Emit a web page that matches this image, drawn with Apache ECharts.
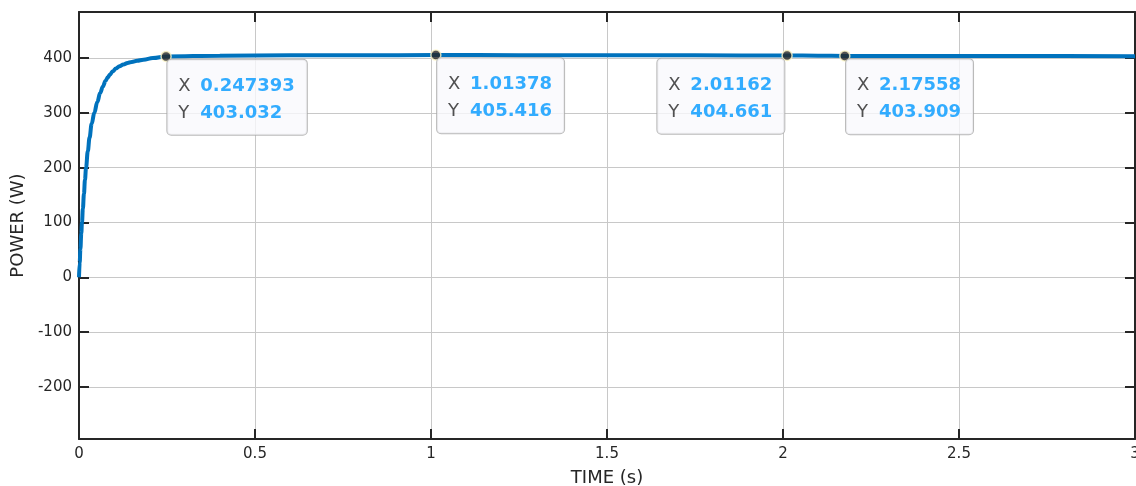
<!DOCTYPE html>
<html>
<head>
<meta charset="utf-8">
<script src="https://cdn.jsdelivr.net/npm/echarts@6/dist/echarts.min.js"></script>
<style>html,body{margin:0;padding:0;background:#fff;}#c{width:1136px;height:486px;}</style>
</head>
<body>
<div id="c"></div>
<script>
// Time (s) and power (W)
const timeS = [0, 0.002, 0.004, 0.0065, 0.0085, 0.011, 0.014, 0.017, 0.02, 0.025, 0.03, 0.036, 0.0435, 0.052, 0.06, 0.068, 0.075, 0.082, 0.088, 0.096, 0.105, 0.115, 0.126, 0.138, 0.15, 0.165, 0.183, 0.21, 0.247393, 0.4, 0.6, 0.8, 1.01378, 1.25, 1.5, 1.75, 2.01162, 2.1, 2.17558, 2.4, 2.7, 3.0];
const powerW = [0, 27, 52, 80, 100, 125, 152, 178, 200, 230, 255, 280, 300, 320, 336, 348, 358, 365, 370, 376, 381, 385, 388, 391, 393, 395, 397, 400, 403.032, 404.2, 404.9, 405.2, 405.416, 405.3, 405.1, 404.9, 404.661, 404.3, 403.909, 403.7, 403.6, 403.5];

// Data tips
const tipX = [0.247393, 1.01378, 2.01162, 2.17558];
const tipY = [403.032, 405.416, 404.661, 403.909];
const tipSide = ['right', 'right', 'left', 'right'];

const xTicks = [0, 0.5, 1, 1.5, 2, 2.5, 3];
const yTickStep = 100;

const font = 'DejaVu Sans';
const ink = '#262626';

const lineData = timeS.map((t, i) => [t, powerW[i]]);
const tipData = tipX.map((x, i) => ({
  value: [x, tipY[i]],
  label: tipSide[i] === 'left'
    ? { position: [3, 9], align: 'right' }
    : { position: [7, 9], align: 'left' }
}));

const chart = echarts.init(document.getElementById('c'), null, { renderer: 'canvas' });
const axisCommon = {
  axisLine: { show: true, onZero: false, lineStyle: { color: ink, width: 2 } },
  axisTick: { show: true, inside: true, length: 10, lineStyle: { color: ink, width: 2 } }
};
chart.setOption({
  animation: false,
  backgroundColor: '#ffffff',
  grid: { left: 79, right: 1, top: 12, bottom: 47, containLabel: false, outerBoundsMode: 'none' },
  xAxis: [
    Object.assign({
      type: 'value', min: xTicks[0], max: xTicks[xTicks.length - 1], interval: xTicks[1] - xTicks[0],
      position: 'bottom',
      name: 'TIME (s)', nameLocation: 'middle', nameGap: 30,
      nameTextStyle: { fontFamily: font, fontSize: 18, color: ink },
      axisLabel: { fontFamily: font, fontSize: 15, color: ink, margin: 8 },
      splitLine: { show: true, lineStyle: { color: '#c8c8c8', width: 1 } }
    }, axisCommon),
    Object.assign({
      type: 'value', min: xTicks[0], max: xTicks[xTicks.length - 1], interval: xTicks[1] - xTicks[0],
      position: 'top', axisLabel: { show: false }, splitLine: { show: false }
    }, axisCommon)
  ],
  yAxis: [
    Object.assign({
      type: 'value', min: -295, max: 484, splitNumber: 8,
      position: 'left',
      name: 'POWER (W)', nameLocation: 'middle', nameGap: 43,
      nameTextStyle: { fontFamily: font, fontSize: 18, color: ink },
      axisLabel: {
        fontFamily: font, fontSize: 15, color: ink, margin: 7,
        formatter: v => (Math.abs(v % yTickStep) < 1e-6 ? String(v) : '')
      },
      splitLine: { show: true, lineStyle: { color: '#c8c8c8', width: 1 } }
    }, axisCommon),
    Object.assign({
      type: 'value', min: -295, max: 484, splitNumber: 8,
      position: 'right', axisLabel: { show: false }, splitLine: { show: false }
    }, axisCommon)
  ],
  series: [
    {
      type: 'line', data: lineData, xAxisIndex: 0, yAxisIndex: 0,
      showSymbol: false, smooth: 0.4, smoothMonotone: 'x',
      lineStyle: { color: '#0072BD', width: 4 }, z: 2
    },
    {
      type: 'scatter', data: tipData, xAxisIndex: 0, yAxisIndex: 0,
      symbol: 'circle', symbolSize: 10,
      itemStyle: { color: '#262626', borderColor: '#fff8c8', borderWidth: 1.5 },
      z: 5,
      label: {
        show: true,
        formatter: p => {
          const i = p.dataIndex;
          return '{k|X}{v|' + tipX[i] + '}\n{k|Y}{v|' + tipY[i] + '}';
        },
        backgroundColor: '#f9f9fd',
        borderColor: '#a8a8a8', borderWidth: 1, borderRadius: 4,
        padding: [13, 12, 8, 11],
        rich: {
          k: { fontFamily: font, fontSize: 18, color: ink, width: 22, align: 'left', lineHeight: 27 },
          v: { fontFamily: font, fontSize: 18, fontWeight: 'bold', color: '#0099ff', align: 'left', lineHeight: 27 }
        }
      }
    }
  ]
});
</script>
</body>
</html>
